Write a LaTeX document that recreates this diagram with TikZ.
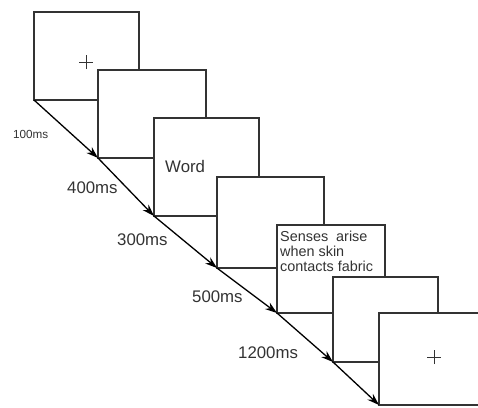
\documentclass[tikz,border=0pt]{standalone}
\usepackage{fontspec}
\setmainfont{Liberation Sans}
\usetikzlibrary{arrows.meta}
\definecolor{ink}{HTML}{333333}
\begin{document}
\begin{tikzpicture}[x=1pt,y=-1pt,
  screen/.style={draw=ink,line width=1.5pt,fill=white},
  flow/.style={draw=black,line width=1.3pt,-{Stealth[length=12pt,width=8pt]}},
  lbl/.style={text=ink,font=\fontsize{16.8}{18}\selectfont,inner sep=0pt},
  small/.style={text=ink,font=\fontsize{11.7}{13}\selectfont,inner sep=0pt},
  cross/.style={draw=ink,line width=0.9pt}]
\useasboundingbox (0,0) rectangle (478,407);
% screens
\draw[screen] (34,12) rectangle (139,100);
\coordinate (b1) at (34,100);
\draw[screen] (98,70) rectangle (206,158);
\coordinate (b2) at (98,158);
\draw[screen] (154,118) rectangle (259,216);
\coordinate (b3) at (154,216);
\draw[screen] (217,177) rectangle (324,268);
\coordinate (b4) at (217,268);
\draw[screen] (277,225) rectangle (385,313);
\coordinate (b5) at (277,313);
\draw[screen] (333,277) rectangle (438,362);
\coordinate (b6) at (333,362);
\draw[screen] (379,313) rectangle (485,405);
\coordinate (b7) at (379,405);
% arrows
\draw[flow] (b1) -- (b2);
\draw[flow] (b2) -- (b3);
\draw[flow] (b3) -- (b4);
\draw[flow] (b4) -- (b5);
\draw[flow] (b5) -- (b6);
\draw[flow] (b6) -- (b7);
% crosses
\coordinate (c1) at (86,62);
\draw[cross] ([xshift=-7pt]c1) -- ([xshift=7pt]c1) ([yshift=-7pt]c1) -- ([yshift=7pt]c1);
\coordinate (c7) at (434,357);
\draw[cross] ([xshift=-7pt]c7) -- ([xshift=7pt]c7) ([yshift=-7pt]c7) -- ([yshift=7pt]c7);
% texts
\node[lbl,anchor=west] (word) at (165,166) {Word};
\node[text=ink,font=\fontsize{14.4}{15}\selectfont,inner sep=0pt,anchor=north west,align=left] (senses) at (280,231)
  {Senses\ \ arise\\when skin\\contacts fabric};
% time labels
\node[small,anchor=west] (t1) at (13,134) {100ms};
\node[lbl,anchor=west] (t2) at (67,188) {400ms};
\node[lbl,anchor=west] (t3) at (117,240) {300ms};
\node[lbl,anchor=west] (t4) at (192,297) {500ms};
\node[lbl,anchor=west] (t5) at (238,353) {1200ms};
\end{tikzpicture}
\end{document}
